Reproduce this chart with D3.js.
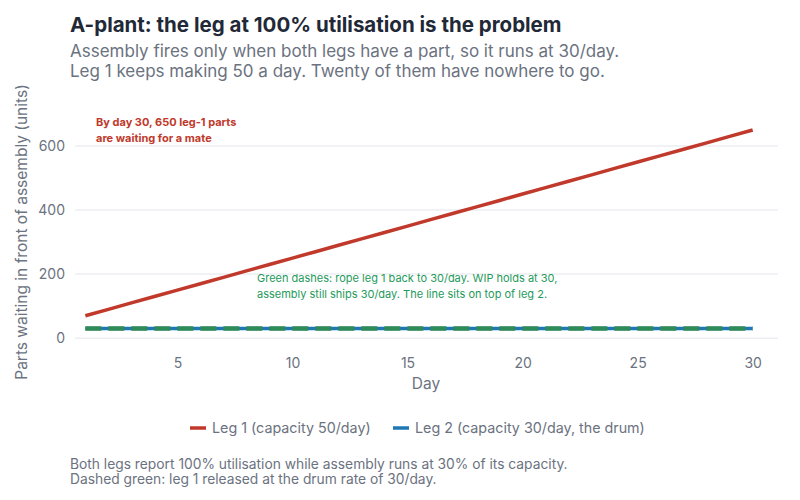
<!DOCTYPE html>
<html><head><meta charset="utf-8">
<script src="https://cdn.jsdelivr.net/npm/d3@7"></script>
<style>body{margin:0;background:#fff;font-family:Inter,"Noto Sans",sans-serif;}</style>
</head><body><svg id="svg" width="800" height="500"></svg>
<script>
const days = [1,2,3,4,5,6,7,8,9,10,11,12,13,14,15,16,17,18,19,20,21,22,23,24,25,26,27,28,29,30];
const leg1 = [70,90,110,130,150,170,190,210,230,250,270,290,310,330,350,370,390,410,430,450,470,490,510,530,550,570,590,610,630,650];
const leg2 = [30,30,30,30,30,30,30,30,30,30,30,30,30,30,30,30,30,30,30,30,30,30,30,30,30,30,30,30,30,30];
const roped = [30,30,30,30,30,30,30,30,30,30,30,30,30,30,30,30,30,30,30,30,30,30,30,30,30,30,30,30,30,30];
const xTicks = [5,10,15,20,25,30];
const yTicks = [0,200,400,600];

var svg = d3.select("#svg");
var x = d3.scaleLinear().domain([0.55,31.1]).range([75,778]);
var y = d3.scaleLinear().domain([-37,700]).range([350,114]);

//title and subtitle
svg.append("text").attr("x",70).attr("y",32).attr("font-size",20.5).attr("font-weight",700).attr("fill","#1f2937")
  .text("A-plant: the leg at 100% utilisation is the problem");
svg.append("text").attr("x",70).attr("y",57).attr("font-size",17).attr("fill","#6b7280")
  .text("Assembly fires only when both legs have a part, so it runs at 30/day.");
svg.append("text").attr("x",70).attr("y",77).attr("font-size",17).attr("fill","#6b7280")
  .text("Leg 1 keeps making 50 a day. Twenty of them have nowhere to go.");

//grid
svg.append("g").selectAll("line").data(yTicks).enter().append("line")
  .attr("x1",75).attr("x2",778).attr("y1",d=>y(d)).attr("y2",d=>y(d))
  .attr("stroke","#eceef3").attr("stroke-width",1.5);

var yAxis = svg.append("g").attr("transform","translate(75,0)")
  .call(d3.axisLeft(y).tickValues(yTicks).tickSize(0).tickPadding(10));
yAxis.select(".domain").remove();
yAxis.selectAll("text").attr("font-size",14).attr("fill","#6b7280").attr("font-family","Inter,sans-serif");

var xAxis = svg.append("g").attr("transform","translate(0,350)")
  .call(d3.axisBottom(x).tickValues(xTicks).tickSize(0).tickPadding(8));
xAxis.select(".domain").remove();
xAxis.selectAll("text").attr("font-size",14).attr("fill","#6b7280").attr("font-family","Inter,sans-serif");

svg.append("text").attr("x",426).attr("y",389).attr("text-anchor","middle").attr("font-size",15.5).attr("fill","#6b7280").text("Day");
svg.append("text").attr("transform","translate(27,232) rotate(-90)").attr("text-anchor","middle")
  .attr("font-size",15.5).attr("fill","#6b7280").text("Parts waiting in front of assembly (units)");

var line = d3.line().x((d,i)=>x(days[i])).y(d=>y(d));
svg.append("path").datum(leg2).attr("d",line).attr("fill","none").attr("stroke","#1f77b4").attr("stroke-width",3.5);
svg.append("path").datum(roped).attr("d",line).attr("fill","none").attr("stroke","#2e8b57").attr("stroke-width",4.5).attr("stroke-dasharray","16,7");
svg.append("path").datum(leg1).attr("d",line).attr("fill","none").attr("stroke","#c0392b").attr("stroke-width",3.5);

//annotations
svg.append("text").attr("x",96).attr("y",126).attr("font-size",11).attr("font-weight",700).attr("fill","#c0392b").text("By day 30, 650 leg-1 parts");
svg.append("text").attr("x",96).attr("y",142).attr("font-size",11).attr("font-weight",700).attr("fill","#c0392b").text("are waiting for a mate");
svg.append("text").attr("x",257).attr("y",282).attr("font-size",11).attr("fill","#1e9a5a").text("Green dashes: rope leg 1 back to 30/day. WIP holds at 30,");
svg.append("text").attr("x",257).attr("y",298).attr("font-size",11).attr("fill","#1e9a5a").text("assembly still ships 30/day. The line sits on top of leg 2.");

//legend
var leg = [{n:"Leg 1 (capacity 50/day)",c:"#c0392b",x:190},{n:"Leg 2 (capacity 30/day, the drum)",c:"#1f77b4",x:393}];
var lg = svg.append("g").selectAll("g").data(leg).enter().append("g");
lg.append("line").attr("x1",d=>d.x).attr("x2",d=>d.x+16).attr("y1",428).attr("y2",428).attr("stroke",d=>d.c).attr("stroke-width",3.5);
lg.append("text").attr("x",d=>d.x+22).attr("y",433).attr("font-size",14.3).attr("fill","#6b7280").text(d=>d.n);

svg.append("text").attr("x",70).attr("y",469).attr("font-size",13.8).attr("fill","#6b7280").text("Both legs report 100% utilisation while assembly runs at 30% of its capacity.");
svg.append("text").attr("x",70).attr("y",484).attr("font-size",13.8).attr("fill","#6b7280").text("Dashed green: leg 1 released at the drum rate of 30/day.");
</script></body></html>
